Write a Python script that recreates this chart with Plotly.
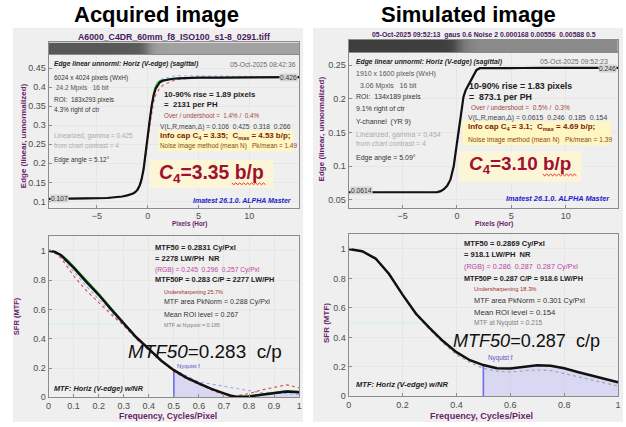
import plotly.graph_objects as go

# ---------------- data ----------------
# Acquired image: edge profile (pixels vs linear level)
edge_acq_x = [-9.7, -8, -6, -4, -3, -2.5, -2, -1.5, -1.2, -1.0, -0.8, -0.6, -0.4, -0.2, 0, 0.2, 0.4,
              0.6, 0.8, 1.0, 1.2, 1.5, 2.0, 2.5, 3, 4, 5, 7, 10, 14.9]
edge_acq_y = [0.107, 0.107, 0.108, 0.109, 0.111, 0.113, 0.116, 0.120, 0.125, 0.131, 0.141, 0.158, 0.185,
              0.223, 0.268, 0.313, 0.352, 0.380, 0.397, 0.407, 0.413, 0.417, 0.420, 0.422, 0.423, 0.424,
              0.425, 0.425, 0.426, 0.426]
edge_acq_red = [0.107, 0.107, 0.108, 0.109, 0.111, 0.113, 0.116, 0.119, 0.123, 0.128, 0.137, 0.152, 0.177,
                0.212, 0.255, 0.298, 0.336, 0.362, 0.380, 0.391, 0.398, 0.405, 0.412, 0.417, 0.420, 0.423,
                0.424, 0.425, 0.426, 0.426]
edge_acq_blue = [0.107, 0.107, 0.108, 0.109, 0.111, 0.113, 0.116, 0.120, 0.125, 0.131, 0.141, 0.158, 0.185,
                 0.223, 0.268, 0.315, 0.356, 0.385, 0.402, 0.412, 0.418, 0.423, 0.427, 0.429, 0.430, 0.430,
                 0.430, 0.429, 0.428, 0.427]
edge_acq_green = [0.107, 0.107, 0.108, 0.109, 0.111, 0.113, 0.116, 0.120, 0.125, 0.131, 0.141, 0.158, 0.185,
                  0.223, 0.268, 0.315, 0.356, 0.388, 0.405, 0.413, 0.417, 0.419, 0.421, 0.422, 0.423, 0.424,
                  0.425, 0.425, 0.426, 0.426]

# Simulated image: edge profile
edge_sim_x = [-9.95, -8, -6, -4, -2.5, -1.8, -1.5, -1.2, -0.9, -0.6, -0.3, 0, 0.3, 0.6, 0.8, 1.0, 1.2,
              1.5, 1.8, 2.1, 3, 4, 5, 6, 8, 10, 12, 14.8]
edge_sim_y = [0.0614, 0.0612, 0.0615, 0.0613, 0.0614, 0.0616, 0.063, 0.066, 0.071, 0.080, 0.100, 0.133,
              0.170, 0.203, 0.213, 0.219, 0.226, 0.236, 0.243, 0.2455, 0.2458, 0.2455, 0.2462, 0.2458,
              0.2461, 0.2463, 0.2459, 0.246]
edge_sim_red = [0.0614, 0.0613, 0.0614, 0.0614, 0.0615, 0.0615, 0.0625, 0.065, 0.070, 0.079, 0.098, 0.130,
                0.168, 0.201, 0.212, 0.218, 0.225, 0.235, 0.242, 0.245, 0.2452, 0.2448, 0.2455, 0.2452,
                0.2455, 0.2458, 0.2453, 0.2455]

# Acquired image: MTF (frequency in cycles/pixel)
mtf_acq_f = [0, 0.025, 0.05, 0.075, 0.1, 0.15, 0.2, 0.25, 0.3, 0.35, 0.4, 0.45, 0.5, 0.55, 0.6, 0.65,
             0.7, 0.725, 0.75, 0.8, 0.85, 0.9, 0.95, 1.0]
mtf_acq_y = [1.0, 0.993, 0.97, 0.93, 0.885, 0.79, 0.70, 0.60, 0.505, 0.41, 0.33, 0.25, 0.185, 0.135,
             0.095, 0.058, 0.027, 0.012, 0.003, 0.006, 0.018, 0.028, 0.04, 0.035]
mtf_acq_red = [1.0, 0.985, 0.95, 0.89, 0.83, 0.73, 0.645, 0.565, 0.49, 0.40, 0.32, 0.245, 0.175, 0.125,
               0.085, 0.05, 0.018, 0.008, 0.01, 0.025, 0.05, 0.07, 0.085, 0.065]
mtf_acq_blue = [1.0, 0.99, 0.96, 0.91, 0.86, 0.76, 0.67, 0.58, 0.49, 0.40, 0.32, 0.25, 0.19, 0.15, 0.105,
                0.09, 0.075, 0.065, 0.055, 0.04, 0.03, 0.03, 0.025, 0.02]
mtf_acq_green = [1.0, 0.995, 0.975, 0.94, 0.895, 0.805, 0.71, 0.61, 0.51, 0.41, 0.33, 0.25, 0.185, 0.13,
                 0.09, 0.055, 0.025, 0.01, 0.005, 0.01, 0.02, 0.03, 0.045, 0.04]
mtf50_acq = 0.283

# Simulated image: MTF
mtf_sim_f = [0, 0.05, 0.1, 0.15, 0.2, 0.25, 0.3, 0.35, 0.4, 0.45, 0.5, 0.55, 0.6, 0.65, 0.7, 0.75, 0.8,
             0.85, 0.9, 0.95, 1.0]
mtf_sim_y = [1.0, 0.985, 0.935, 0.83, 0.69, 0.56, 0.465, 0.375, 0.30, 0.245, 0.212, 0.19, 0.188, 0.198,
             0.21, 0.208, 0.19, 0.165, 0.14, 0.115, 0.095]
mtf_sim_gray = [1.0, 0.985, 0.932, 0.826, 0.685, 0.553, 0.455, 0.362, 0.282, 0.23, 0.19, 0.17, 0.165,
                0.17, 0.18, 0.175, 0.155, 0.13, 0.11, 0.09, 0.07]
mtf50_sim = 0.287
nyquist = 0.5

# tick labels
edge_xticks = [-5, 0, 5, 10]
edge_acq_yticks = [0.1, 0.15, 0.2, 0.25, 0.3, 0.35, 0.4, 0.45]
edge_acq_ylabels = ["0.1", "0.15", "0.2", "0.25", "0.3", "0.35", "0.4", "0.45"]
edge_sim_yticks = [0.05, 0.1, 0.15, 0.2, 0.25]
edge_sim_ylabels = ["0.05", "0.1", "0.15", "0.2", "0.25"]
mtf_acq_xticks = [0, 0.1, 0.2, 0.3, 0.4, 0.5, 0.6, 0.7, 0.8, 0.9, 1]
mtf_acq_xlabels = ["0", "0.1", "0.2", "0.3", "0.4", "0.5", "0.6", "0.7", "0.8", "0.9", "1"]
mtf_sim_xticks = [0, 0.2, 0.4, 0.6, 0.8, 1]
mtf_sim_xlabels = ["0", "0.2", "0.4", "0.6", "0.8", "1"]
mtf_yticks = [0, 0.2, 0.4, 0.6, 0.8, 1]
mtf_ylabels = ["0", "0.2", "0.4", "0.6", "0.8", "1"]

# ---------------- figure ----------------
W, H = 626, 427
def fx(p): return p / W
def fy(p): return 1 - p / H

SANS = "Liberation Sans, Arial, sans-serif"
K = 0.84          # the screenshot text is horizontally squeezed; shrink to match widths
PURPLE = "#6b1f6b"

fig = go.Figure()

def line(x, y, xa, ya, color, width, dash="solid"):
    fig.add_trace(go.Scatter(x=x, y=y, xaxis=xa, yaxis=ya, mode="lines",
                             line=dict(color=color, width=width, dash=dash),
                             showlegend=False, hoverinfo="skip"))

# gradient bars (edge image strips)
fig.add_trace(go.Heatmap(x=edge_acq_x, y=[0], z=[edge_acq_y], xaxis="x5", yaxis="y5", zsmooth="best",
                         colorscale=[[0, "#585858"], [1, "#a2a2a2"]], showscale=False, hoverinfo="skip"))
fig.add_trace(go.Heatmap(x=edge_sim_x, y=[0], z=[edge_sim_y], xaxis="x6", yaxis="y6", zsmooth="best",
                         colorscale=[[0, "#3e3e3e"], [1, "#8a8a8a"]], showscale=False, hoverinfo="skip"))

# edge plots
line(edge_acq_x, edge_acq_blue, "x", "y", "#9bbcff", 1.2, "dot")
line(edge_acq_x, edge_acq_red, "x", "y", "#e05a5a", 1.1, "dot")
line(edge_acq_x, edge_acq_green, "x", "y", "#3cc83c", 1.2)
line(edge_acq_x, edge_acq_y, "x", "y", "#111111", 2.2)

line(edge_sim_x, edge_sim_red, "x2", "y2", "#d06060", 1.0, "dot")
line(edge_sim_x, edge_sim_y, "x2", "y2", "#111111", 2.2)

# MTF plots: Nyquist fill + markers
def nyq_fill(f, y, xa, ya):
    xs = [a for a in f if a >= nyquist]
    ys = [b for a, b in zip(f, y) if a >= nyquist]
    fig.add_trace(go.Scatter(x=xs, y=ys, xaxis=xa, yaxis=ya, mode="lines", fill="tozeroy",
                             fillcolor="rgba(175,175,250,0.35)", line=dict(width=0),
                             showlegend=False, hoverinfo="skip"))
    line([nyquist, nyquist], [0, ys[0]], xa, ya, "#6f6fe0", 1.6)

nyq_fill(mtf_acq_f, mtf_acq_y, "x3", "y3")
line([0, mtf50_acq], [0.5, 0.5], "x3", "y3", "#c8f4f4", 1.2)
line(mtf_acq_f, mtf_acq_blue, "x3", "y3", "#8fa6ff", 1.1, "dot")
line(mtf_acq_f, mtf_acq_red, "x3", "y3", "#e04848", 1.1, "dot")
line(mtf_acq_f, mtf_acq_green, "x3", "y3", "#40c040", 1.4)
line(mtf_acq_f, mtf_acq_y, "x3", "y3", "#111111", 2.5)

nyq_fill(mtf_sim_f, mtf_sim_y, "x4", "y4")
line([0, mtf50_sim], [0.5, 0.5], "x4", "y4", "#c8f4f4", 1.2)
line(mtf_sim_f, mtf_sim_gray, "x4", "y4", "#a0a0a0", 1.1, "dot")
line(mtf_sim_f, mtf_sim_y, "x4", "y4", "#111111", 2.5)

# ---------------- axes ----------------
common = dict(showline=True, mirror=True, linecolor="#8c8c8c", linewidth=1, ticks="inside", ticklen=3,
              tickcolor="#8c8c8c", showgrid=True, gridcolor="#e6e6e6", gridwidth=1, zeroline=False,
              tickfont=dict(family=SANS, size=9, color="#4d4d4d"), fixedrange=True)
bar = dict(showline=True, mirror=True, linecolor="#8c8c8c", linewidth=1, showgrid=False, zeroline=False,
           showticklabels=False, ticks="", fixedrange=True)

layout = dict(
    width=W, height=H, autosize=False, margin=dict(l=0, r=0, t=0, b=0),
    paper_bgcolor="white", plot_bgcolor="white", showlegend=False,
    xaxis=dict(domain=[fx(46), fx(299)], anchor="y", range=[-9.75, 14.9], tickvals=edge_xticks, **common),
    yaxis=dict(domain=[fy(210), fy(55)], anchor="x", range=[0.084, 0.486], tickvals=edge_acq_yticks,
               ticktext=edge_acq_ylabels, **common),
    xaxis2=dict(domain=[fx(349), fx(621)], anchor="y2", range=[-9.95, 14.8], tickvals=edge_xticks, **common),
    yaxis2=dict(domain=[fy(210), fy(53)], anchor="x2", range=[0.0387, 0.269], tickvals=edge_sim_yticks,
                ticktext=edge_sim_ylabels, **common),
    xaxis3=dict(domain=[fx(46), fx(299)], anchor="y3", range=[0, 1], tickvals=mtf_acq_xticks,
                ticktext=mtf_acq_xlabels, **common),
    yaxis3=dict(domain=[fy(402), fy(239)], anchor="x3", range=[0, 1.1], tickvals=mtf_yticks,
                ticktext=mtf_ylabels, **common),
    xaxis4=dict(domain=[fx(349), fx(621)], anchor="y4", range=[0, 1], tickvals=mtf_sim_xticks,
                ticktext=mtf_sim_xlabels, **common),
    yaxis4=dict(domain=[fy(401), fy(237)], anchor="x4", range=[0, 1.1], tickvals=mtf_yticks,
                ticktext=mtf_ylabels, **common),
    xaxis5=dict(domain=[fx(46), fx(299)], anchor="y5", range=[-9.75, 14.9], **bar),
    yaxis5=dict(domain=[fy(55), fy(43)], anchor="x5", range=[-0.5, 0.5], **bar),
    xaxis6=dict(domain=[fx(349), fx(621)], anchor="y6", range=[-9.95, 14.8], **bar),
    yaxis6=dict(domain=[fy(53), fy(40)], anchor="x6", range=[-0.5, 0.5], **bar),
)

# ---------------- shapes ----------------
shapes = []
def rect(x0, y0, x1, y1, color, layer="below"):
    shapes.append(dict(type="rect", xref="paper", yref="paper", x0=fx(x0), x1=fx(x1), y0=fy(y1), y1=fy(y0),
                       fillcolor=color, line=dict(width=0), layer=layer))

def squiggle(x0, x1, y):
    # wavy spell-check underline (decoration)
    pts = []
    n = int((x1 - x0) / 2)
    for i in range(n + 1):
        pts.append((fx(x0 + 2 * i), fy(y + (1 if i % 2 else -1) * 0.9)))
    path = "M " + " L ".join(f"{a:.5f},{b:.5f}" for a, b in pts)
    shapes.append(dict(type="path", xref="paper", yref="paper", path=path,
                       line=dict(color="#e03030", width=1), layer="above"))

rect(10, 28, 303, 427, "#efefef")
rect(313, 28, 626, 427, "#efefef")
rect(157, 132, 293, 153, "#fff6c2", "above")
rect(148, 162, 273, 190, "#fcf6d6", "above")
rect(464, 123, 614, 147, "#fff6c2", "above")
rect(460, 153, 584, 184, "#fcf6d6", "above")
squiggle(231, 265, 186)
squiggle(545, 579, 177)
layout["shapes"] = shapes

# ---------------- text ----------------
ann = []
def T(x, y, s, size, color="#222222", xa="left", bold=False, italic=False, angle=0, bg=None, squeeze=True):
    s = s.replace("  ", "\u00a0\u00a0")
    if italic:
        s = f"<i>{s}</i>"
    if bold:
        s = f"<b>{s}</b>"
    sz = round(size * K, 2) if squeeze else size
    d = dict(x=fx(x), y=fy(y), xref="paper", yref="paper", text=s, showarrow=False, xanchor=xa,
             yanchor="middle", textangle=angle, font=dict(family=SANS, size=sz, color=color), borderpad=0)
    if bg:
        d["bgcolor"] = bg
    ann.append(d)

# headings
T(155, 15, "Acquired image", 22, "#000000", "center", bold=True, squeeze=False)
T(470, 15, "Simulated image", 22, "#000000", "center", bold=True, squeeze=False)

# --- acquired edge ---
T(173, 37, "A6000_C4DR_60mm_f8_ISO100_s1-8_0291.tiff", 10.4, "#4a1a5c", xa="center", bold=True)
T(50, 65, "Edge linear unnorml: Horiz (V-edge) (sagittal)", 8, "#222", bold=True, italic=True)
T(297, 65, "05-Oct-2025 08:42:36", 8, "#6a6a6a", xa="right")
T(50, 79, "6024 x 4024 pixels (WxH)", 7.7, "#333")
T(53, 89, "24.2 Mpxls   16 bit", 7.7, "#555")
T(50, 101, "ROI:  183x293 pixels", 7.7, "#333")
T(50, 111, "4.3% right of ctr", 7.7, "#333")
T(50, 138, "Linearized, gamma = 0.425", 7.7, "#ababab")
T(50, 147, "from chart contrast = 4", 7.7, "#ababab")
T(50, 162, "Edge angle = 5.12\u00b0", 7.7, "#333")
T(162, 96, "10-90% rise = 1.89 pixels", 9.3, "#222", bold=True)
T(162, 106, "=  2131 per PH", 9.3, "#222", bold=True)
T(162, 117, "Over / undershoot =  1.4% /  0.4%", 7.5, "#a5453d")
T(158, 128, "V(L,R,mean,\u0394) = 0.106  0.425  0.318  0.266", 8, "#444")
T(158, 138, "Info cap C<sub>4</sub> = 3.35;  C<sub>max</sub> = 4.53 b/p;", 9.4, "#7a1f0a", bold=True)
T(158, 148, "Noise image method (mean N)   Pk/mean = 1.49", 7.6, "#8a4a1a")
T(211, 176, "<i>C</i><sub>4</sub>=3.35 b/p", 23, "#a01030", xa="center", bold=True)
T(293, 203, "Imatest 26.1.0. ALPHA Master", 8.3, "#2222cc", xa="right", bold=True, italic=True)
T(47, 201, "0.107", 8, "#333", bg="#d6d6d6")
T(298, 78, "0.426", 8, "#333", xa="right", bg="#d6d6d6")
T(21, 137, "Edge (linear, unnormalized)", 8, PURPLE, "center", bold=True, angle=-90, squeeze=False)
T(188, 227, "Pixels (Hor)", 7.6, PURPLE, xa="center", bold=True)

# --- simulated edge ---
T(486, 35, "05-Oct-2025 09:52:13  gaus 0.6 Noise 2 0.000168 0.00556  0.00588 0.5", 8.2, "#4a1a5c",
  xa="center", bold=True)
T(355, 63, "Edge linear unnorml: Horiz (V-edge) (sagittal)", 8.1, "#222", bold=True, italic=True)
T(612, 62, "05-Oct-2025 09:52:23", 8.3, "#6a6a6a", xa="right")
T(355, 75, "1910 x 1600 pixels (WxH)", 8.3, "#555")
T(359, 87, "3.06 Mpxls   16 bit", 8.3, "#555")
T(355, 98, "ROI:  134x189 pixels", 8.3, "#333")
T(355, 110, "9.1% right of ctr", 8.3, "#333")
T(355, 123, "Y-channel  (YR 9)", 8.3, "#333")
T(355, 137, "Linearized, gamma = 0.454", 8.3, "#ababab")
T(355, 145, "from chart contrast = 4", 8.3, "#ababab")
T(355, 160, "Edge angle = 5.09\u00b0", 8.3, "#333")
T(470, 87, "10-90% rise = 1.83 pixels", 10.5, "#222", bold=True)
T(470, 98, "=  873.1 per PH", 10.5, "#222", bold=True)
T(472, 109, "Over / undershoot =  0.5% /  0.3%", 7.8, "#a5453d")
T(468, 119, "V(L,R,mean,\u0394) = 0.0615  0.246  0.185  0.154", 8.3, "#444")
T(468, 129, "Info cap C<sub>4</sub> = 3.1;  C<sub>max</sub> = 4.69 b/p;", 9.5, "#7a1f0a", bold=True)
T(468, 142, "Noise image method (mean N)   Pk/mean = 1.39", 8.0, "#8a4a1a")
T(522, 167, "<i>C</i><sub>4</sub>=3.10 b/p", 22.5, "#a01030", xa="center", bold=True)
T(614, 201, "Imatest 26.1.0. ALPHA Master", 8.8, "#2222cc", xa="right", bold=True, italic=True)
T(350, 193, "0.0614", 8, "#333", bg="#d6d6d6")
T(620, 69, "0.246", 8, "#333", xa="right", bg="#d6d6d6")
T(322, 130, "Edge (linear, unnormalized)", 8, PURPLE, "center", bold=True, angle=-90, squeeze=False)
T(496, 227, "Pixels (Hor)", 8.2, PURPLE, xa="center", bold=True)

# --- acquired MTF ---
T(152, 250, "MTF50 = 0.2831 Cy/Pxl", 9, "#222", bold=True)
T(152, 262, "= 2278 LW/PH  NR", 9, "#222", bold=True)
T(152, 273, "(RGB) = 0.245  0.296  0.257 Cy/Pxl", 7.9, "#c040a0")
T(152, 283, "MTF50P = 0.283 C/P = 2277 LW/PH", 8.8, "#222", bold=True)
T(162, 295, "Undersharpening 25.7%", 6.5, "#a03030")
T(162, 306, "MTF area PkNorm = 0.288 Cy/Pxl", 8.4, "#333")
T(162, 318, "Mean ROI level = 0.267", 8.4, "#333")
T(162, 329, "MTF at Nyquist = 0.185", 6.4, "#808080")
T(125, 356, "<i>MTF50</i>=0.283  c/p", 22.5, "#111")
T(175, 370, "Nyquist f", 7, "#5555cc")
T(50, 393, "MTF: Horiz (V-edge) w/NR", 8.7, "#222", bold=True, italic=True)
T(13, 320, "SFR (MTF)", 7.5, PURPLE, "center", bold=True, angle=-90, squeeze=False)
T(167, 421, "Frequency, Cycles/Pixel", 10.3, PURPLE, xa="center", bold=True)

# --- simulated MTF ---
T(464, 246, "MTF50 = 0.2869 Cy/Pxl", 9, "#222", bold=True)
T(464, 258, "= 918.1 LW/PH  NR", 9, "#222", bold=True)
T(464, 270, "(RGB) = 0.286  0.287  0.287 Cy/Pxl", 8.6, "#c040a0")
T(464, 282, "MTF50P = 0.287 C/P = 918.6 LW/PH", 8.6, "#222", bold=True)
T(475, 292, "Undersharpening 18.3%", 6.9, "#a03030")
T(475, 304, "MTF area PkNorm = 0.301 Cy/Pxl", 8.8, "#333")
T(475, 316, "Mean ROI level = 0.154", 9.2, "#333")
T(475, 327, "MTF at Nyquist = 0.215", 7.8, "#808080")
T(453, 345, "<i>MTF50</i>=0.287  c/p", 21.5, "#111")
T(489, 362, "Nyquist f", 7.5, "#5555cc")
T(355, 389, "MTF: Horiz (V-edge) w/NR", 9, "#222", bold=True, italic=True)
T(326, 327, "SFR (MTF)", 8, PURPLE, "center", bold=True, angle=-90, squeeze=False)
T(483, 421, "Frequency, Cycles/Pixel", 10.8, PURPLE, xa="center", bold=True)

layout["annotations"] = ann
fig.update_layout(**layout)
fig.write_html("out.html", config={"displayModeBar": False},
               post_script="document.body.style.margin='0px';document.body.style.overflow='hidden';")
